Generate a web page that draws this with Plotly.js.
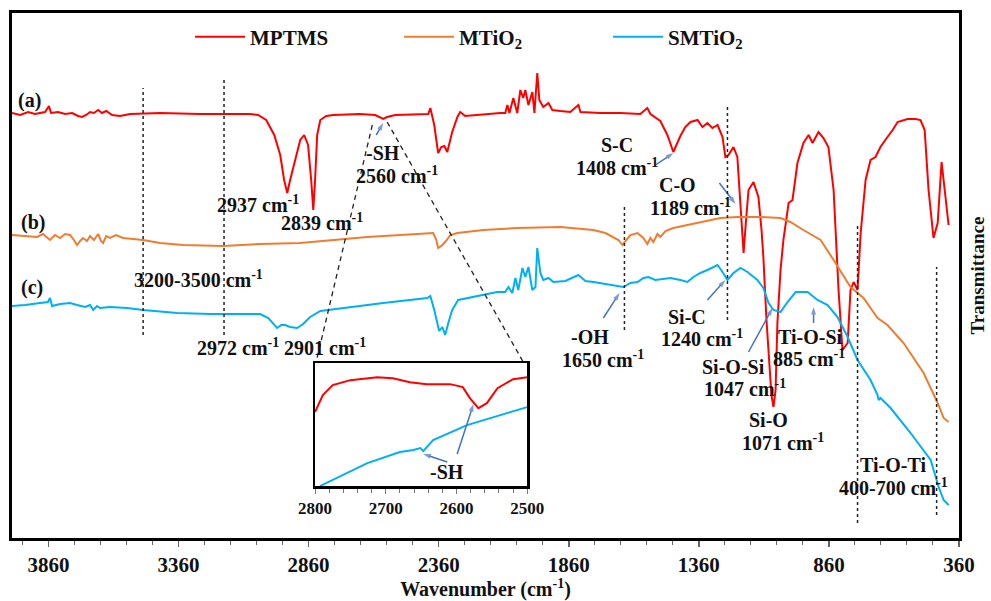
<!DOCTYPE html>
<html>
<head>
<meta charset="utf-8">
<script src="https://cdn.plot.ly/plotly-3.0.1.min.js"></script>
<style>html,body{margin:0;padding:0;background:#fff;}#chart{width:991px;height:601px;}</style>
</head>
<body>
<div id="chart"></div>
<script>
// ---------- DATA (wavenumber in cm-1, transmittance in arbitrary offset units) ----------
const wnA = [4000,3969,3938,3912,3873,3858,3850,3823,3796,3769,3746,3731,3715,3700,3685,3669,3654,3638,3615,3585,3546,3431,3277,3085,3054,3023,2992,2969,2954,2942,2931,2912,2892,2877,2862,2850,2842,2835,2827,2815,2792,2765,2662,2604,2585,2573,2558,2527,2400,2392,2377,2362,2350,2338,2327,2315,2308,2288,2277,2258,2219,2162,2123,2104,2096,2088,2073,2058,2046,2035,2027,2015,2000,1992,1981,1973,1958,1938,1923,1892,1854,1823,1815,1738,1662,1585,1558,1546,1508,1481,1458,1431,1412,1392,1365,1346,1327,1308,1288,1269,1258,1246,1227,1212,1200,1188,1177,1169,1150,1131,1119,1112,1100,1092,1081,1073,1065,1058,1046,1035,1015,1000,981,958,938,923,900,881,862,842,823,808,788,777,765,750,738,719,700,681,662,635,615,596,558,527,508,492,477,458,442,427,412,400];
const tA  = [425,423,426,424,426,432,425,426,424,425,422,421,423,426,425,428,425,427,423,422,424,425,424,424,423,418,403,383,358,345,358,378,398,403,393,358,328,358,403,418,422,423,424,423,421,419,421,423,424,430,413,385,391,392,386,398,406,421,426,422,423,424,425,425,433,425,440,425,448,440,448,433,446,425,465,438,431,435,428,427,426,433,426,425,425,424,430,424,417,403,386,402,411,416,418,411,415,410,413,401,381,383,391,381,338,285,323,348,356,341,308,281,218,181,143,131,148,215,268,298,335,338,375,395,403,395,406,400,391,348,248,188,195,248,256,248,305,358,378,381,391,401,408,416,419,419,418,408,348,300,315,376,338,313];

const wnB = [4000,3950,3904,3881,3854,3835,3815,3796,3777,3762,3750,3738,3727,3712,3700,3685,3669,3658,3650,3638,3623,3600,3573,3496,3431,3342,3188,3046,2892,2635,2404,2381,2369,2362,2350,2335,2315,2288,2188,2058,1892,1765,1719,1692,1669,1654,1642,1623,1596,1573,1558,1546,1535,1519,1508,1488,1458,1404,1342,1277,1212,1123,1046,1008,958,892,842,777,727,673,635,573,496,442,419,400];
const tB  = [303,302,301,304,298,303,300,304,303,298,293,297,300,297,302,298,304,297,295,302,300,303,300,298,295,293,292,294,295,301,304,305,298,290,292,296,303,305,308,310,311,308,305,301,298,293,297,303,305,300,294,300,296,304,301,307,310,313,316,320,321,321,320,316,308,298,278,251,240,220,213,195,165,135,120,116];

const wnC = [4000,3950,3892,3862,3854,3846,3815,3777,3750,3719,3700,3688,3673,3662,3623,3558,3496,3365,3238,3046,3015,2981,2965,2950,2931,2904,2881,2854,2815,2700,2573,2404,2392,2377,2365,2358,2346,2335,2323,2308,2285,2250,2188,2135,2104,2092,2077,2065,2054,2038,2027,2015,2000,1988,1981,1969,1958,1938,1919,1873,1823,1796,1765,1719,1681,1650,1623,1596,1573,1554,1527,1469,1431,1404,1381,1354,1327,1288,1269,1250,1227,1200,1173,1135,1112,1092,1073,1046,1019,988,942,904,865,827,788,750,700,673,669,662,623,546,469,438,419,400];
const tC  = [232,233,235,236,240,232,234,235,233,231,233,228,232,230,231,230,228,225,224,224,220,210,213,213,211,210,214,221,227,231,235,240,242,228,213,207,211,203,215,228,238,240,243,246,246,251,245,260,248,270,261,271,248,251,290,265,258,260,256,257,263,257,256,254,252,251,255,256,260,261,258,260,258,256,261,265,268,273,266,258,265,270,266,258,250,235,228,226,236,246,246,238,233,221,201,178,158,143,138,140,130,105,78,51,38,33];

// inset (2800-2500 cm-1)
const insetWnA = [2800,2789,2775,2750,2712,2690,2666,2642,2609,2591,2581,2569,2557,2542,2520,2500];
const insetTA  = [74,91,101,106,109,108,104,102,102,99,88,78,83,98,107,109];
const insetWnC = [2793,2775,2726,2680,2661,2651,2647,2633,2585,2538,2500];
const insetTC  = [0,6,23,34,36,38,35,46,61,71,79];

const seriesNames = ['MPTMS','MTiO<sub>2</sub>','SMTiO<sub>2</sub>'];
const seriesColors = ['#FF0000','#ED7D31','#00B0F0'];

// band marker lines (wavenumber, top, bottom)
const bandWn  = [3496,3185,1646,1250,750,446];
const bandTop = [450,458,333,431,313,271];
const bandBot = [203,203,208,218,15,23];

// zoom guide lines (from spectrum to inset corners)
const zoomFromWn = [2615,2558];
const zoomFromT  = [413,416];
const zoomToWn   = [2831,2035];
const zoomToT    = [176,176];

// text labels
const labelText = ['(a)','(b)','(c)',
  '2937 cm<sup>-1</sup>','2839 cm<sup>-1</sup>','-SH','2560 cm<sup>-1</sup>',
  '3200-3500 cm<sup>-1</sup>','2972 cm<sup>-1</sup>','2901 cm<sup>-1</sup>',
  'S-C','1408 cm<sup>-1</sup>','C-O','1189 cm<sup>-1</sup>',
  '-OH','1650 cm<sup>-1</sup>','Si-C','1240 cm<sup>-1</sup>',
  'Si-O-Si','1047 cm<sup>-1</sup>','Si-O','1071 cm<sup>-1</sup>',
  'Ti-O-Si','885 cm<sup>-1</sup>','Ti-O-Ti','400-700 cm<sup>-1</sup>'];
const labelWn = [3931,3919,3923,3054,2808,2573,2519,3285,3133,2797,1673,1673,1442,1392,1777,1727,1404,1346,1227,1181,1092,1038,931,938,612,612];
const labelT  = [438,316,251,334,316,385,363,259,191,191,393,371,353,331,201,179,221,200,171,150,118,96,201,180,73,51];

// arrows: tail -> head
const arrTailWn = [2600,1527,1281,1727,1327,1169,919];
const arrTailT  = [403,373,355,220,238,186,215];
const arrHeadWn = [2573,1458,1219,1665,1258,1077,919];
const arrHeadT  = [415,385,334,245,258,230,231];
// inset arrows
const inArrTailWn = [2599,2613];
const inArrTailT  = [32,24];
const inArrHeadWn = [2576,2647];
const inArrHeadT  = [82,32];

const xTickVals = [3860,3360,2860,2360,1860,1360,860,360];
const insetTickVals = [2800,2700,2600,2500];

// ---------- FIGURE ----------
const FONT = 'Liberation Serif, Times New Roman, serif';
const ARROW = '#4472C4';

function arrowTrace(tx, ty, hx, hy, xa, ya) {
  const x = [], y = [], s = [];
  tx.forEach((_, i) => { x.push(tx[i], hx[i], null); y.push(ty[i], hy[i], null); s.push(0, 8, 0); });
  return {x, y, xaxis: xa, yaxis: ya, type:'scatter', mode:'lines+markers', showlegend:false, hoverinfo:'skip',
          line:{color:ARROW, width:1.5}, marker:{symbol:'arrow', size:s, angleref:'previous', color:ARROW, line:{width:0}}};
}

const traces = [
  {x: wnA, y: tA, name: seriesNames[0], type:'scatter', mode:'lines', line:{color:seriesColors[0], width:2}},
  {x: wnB, y: tB, name: seriesNames[1], type:'scatter', mode:'lines', line:{color:seriesColors[1], width:2}},
  {x: wnC, y: tC, name: seriesNames[2], type:'scatter', mode:'lines', line:{color:seriesColors[2], width:2}},
  {x: insetWnA, y: insetTA, xaxis:'x2', yaxis:'y2', type:'scatter', mode:'lines', showlegend:false, line:{color:seriesColors[0], width:2}},
  {x: insetWnC, y: insetTC, xaxis:'x2', yaxis:'y2', type:'scatter', mode:'lines', showlegend:false, line:{color:seriesColors[2], width:2}},
  arrowTrace(arrTailWn, arrTailT, arrHeadWn, arrHeadT, 'x', 'y'),
  arrowTrace(inArrTailWn, inArrTailT, inArrHeadWn, inArrHeadT, 'x2', 'y2')
];

const shapes = [];
bandWn.forEach((w,i)=>shapes.push({type:'line', xref:'x', yref:'y', x0:w, x1:w, y0:bandBot[i], y1:bandTop[i], line:{color:'#222', width:1.5, dash:'dot'}}));
zoomFromWn.forEach((w,i)=>shapes.push({type:'line', xref:'x', yref:'y', x0:w, y0:zoomFromT[i], x1:zoomToWn[i], y1:zoomToT[i], line:{color:'#222', width:1.3, dash:'5px,4px'}}));

const annFont = {family: FONT, size: 20, color:'#111', weight:'bold'};
const annotations = [];
labelText.forEach((t,i)=>annotations.push({xref:'x', yref:'y', x:labelWn[i], y:labelT[i], text:t, showarrow:false, font:annFont}));
annotations.push({xref:'x2', yref:'y2', x:2613, y:14, text:'-SH', showarrow:false, font:annFont});

const layout = {
  width: 991, height: 601,
  margin: {l:12, r:32, t:13, b:63},
  paper_bgcolor:'#fff', plot_bgcolor:'#fff',
  font: {family: FONT, color:'#111'},
  showlegend: true,
  legend: {orientation:'h', x:0.188, xanchor:'left', y:0.954, yanchor:'middle', bgcolor:'rgba(0,0,0,0)',
           font:{family:FONT, size:21, weight:'bold', color:'#111'}, entrywidth:144, entrywidthmode:'pixels', itemwidth:50},
  xaxis: {
    range:[4000,360], tickvals:xTickVals, ticktext:xTickVals.map(String),
    ticks:'outside', ticklen:6, tickwidth:1.5, tickcolor:'#666',
    minor:{dtick:100, tick0:360, ticks:'outside', ticklen:4, tickwidth:1, tickcolor:'#666'},
    showline:true, mirror:true, linecolor:'#000', linewidth:3,
    showgrid:false, zeroline:false,
    tickfont:{family:FONT, size:21, weight:'bold', color:'#111'},
    title:{text:'Wavenumber (cm<sup>-1</sup>)', font:{family:FONT, size:20, weight:'bold', color:'#111'}, standoff:7}
  },
  yaxis: {
    range:[0,525], side:'right', showticklabels:false, ticks:'',
    showline:true, mirror:true, linecolor:'#000', linewidth:3,
    showgrid:false, zeroline:false,
    title:{text:'Transmittance', font:{family:FONT, size:19, weight:'bold', color:'#111'}, standoff:10}
  },
  xaxis2: {
    domain:[0.320,0.544], anchor:'y2', range:[2800,2500], tickvals:insetTickVals, ticktext:insetTickVals.map(String),
    ticks:'outside', ticklen:5, tickcolor:'#777',
    minor:{dtick:20, tick0:2500, ticks:'outside', ticklen:4, tickcolor:'#777'},
    showline:true, mirror:true, linecolor:'#000', linewidth:2.5,
    showgrid:false, zeroline:false,
    tickfont:{family:FONT, size:17, weight:'bold', color:'#111'}
  },
  yaxis2: {
    domain:[0.099,0.333], anchor:'x2', range:[0,123], showticklabels:false, ticks:'',
    showline:true, mirror:true, linecolor:'#000', linewidth:2.5,
    showgrid:false, zeroline:false
  },
  shapes: shapes,
  annotations: annotations
};

Plotly.newPlot('chart', traces, layout, {displayModeBar:false, staticPlot:true});
</script>
</body>
</html>
